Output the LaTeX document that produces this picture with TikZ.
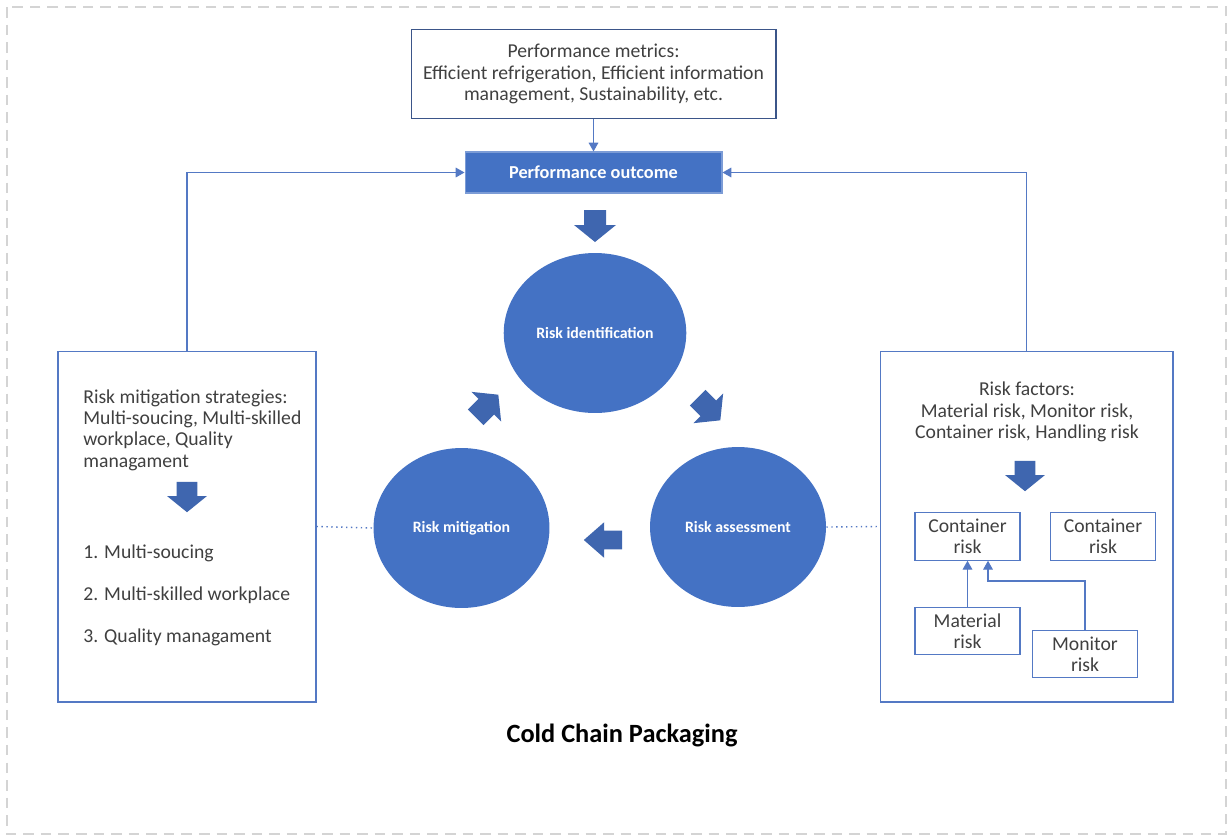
\documentclass[tikz,border=0pt]{standalone}
\usepackage{fontspec}
\setmainfont{Carlito}
\usetikzlibrary{arrows.meta,shapes.geometric}
\definecolor{fillblue}{HTML}{4472C4}
\definecolor{arrowblue}{HTML}{3F66AF}
\definecolor{lineblue}{HTML}{5479C4}
\definecolor{framegrey}{HTML}{D4D4D4}
\definecolor{txt}{HTML}{404040}
\tikzset{
  body/.style={font=\fontsize{11.2}{12.1}\selectfont, text=txt},
  panel/.style={draw=lineblue, line width=0.6pt, fill=white},
  smallbox/.style={panel, body, minimum width=2.1cm, minimum height=0.95cm, align=center, inner sep=1pt},
  stage/.style={ellipse, fill=fillblue, minimum width=3.52cm, minimum height=3.2cm, text=white,
    font=\fontsize{9}{10}\selectfont\bfseries},
  conn/.style={draw=lineblue, line width=0.6pt},
  tip/.style={-{Triangle[length=5pt,width=5.5pt]}},
  link/.style={draw=lineblue, line width=0.8pt, dotted},
  barrow/.pic={\fill[arrowblue] (-16,-11) -- (-1,-11) -- (-1,-21) -- (16,0) -- (-1,21) -- (-1,11) -- (-16,11) -- cycle;}
}
\begin{document}
\begin{tikzpicture}[x=0.02cm, y=-0.02cm]
\useasboundingbox (0,0) rectangle (1227,836);
\draw[framegrey, line width=1.1pt, dash pattern=on 6pt off 4pt] (7,7) rectangle (1226,834);

% performance metrics and outcome
\node[panel, draw=lineblue!70!black, body, align=center, minimum width=7.3cm, minimum height=1.78cm]
  (metrics) at (593.5,74) {Performance metrics:\\Efficient refrigeration, Efficient information\\management, Sustainability, etc.};
\node[fill=fillblue, draw=fillblue!70!white, line width=0.6pt, minimum width=5.14cm, minimum height=0.82cm,
  text=white, font=\fontsize{10.4}{12}\selectfont\bfseries] (outcome) at (593.5,172.5) {Performance outcome};
\draw[conn, tip] (metrics) -- (outcome);

% side panels
\node[panel, minimum width=5.16cm, minimum height=7.02cm] (leftbox) at (187,526.5) {};
\node[panel, minimum width=5.86cm, minimum height=7.02cm] (rightbox) at (1026.5,526.5) {};
\draw[conn, tip] (leftbox.north) |- (outcome.west);
\draw[conn, tip] (rightbox.north) |- (outcome.east);

% risk cycle
\node[stage] (ident) at (595,333) {Risk identification};
\node[stage] (mitig) at (461.5,528) {Risk mitigation};
\node[stage] (assess) at (738,527) {Risk assessment};
\pic[rotate=-90] at (595,226) {barrow};
\pic[rotate=45] at (487,406) {barrow};
\pic[rotate=-45] at (709,409) {barrow};
\pic[rotate=180, xscale=1.2, yscale=0.85] at (603,540) {barrow};
\draw[link] (leftbox.east) -- (mitig.west);
\draw[link] (assess.east) -- (rightbox.west);

% mitigation strategies
\node[body, align=left, anchor=west, inner sep=0] (strat) at (83,430)
  {Risk mitigation strategies:\\Multi-soucing, Multi-skilled\\workplace, Quality\\managament};
\pic[rotate=-90, scale=0.95] at (187,497) {barrow};
\node[body, anchor=west, inner sep=0] (s1) at (83,553) {1. Multi-soucing};
\node[body, anchor=west, inner sep=0] (s2) at (83,595) {2. Multi-skilled workplace};
\node[body, anchor=west, inner sep=0] (s3) at (83,637) {3. Quality managament};

% risk factors
\node[body, align=center, inner sep=0] (factors) at (1027,412)
  {Risk factors:\\Material risk, Monitor risk,\\Container risk, Handling risk};
\pic[rotate=-90, scale=0.95] at (1025,476) {barrow};
\node[smallbox] (cont1) at (967.5,536.5) {Container\\risk};
\node[smallbox] (cont2) at (1103,536.5) {Container\\risk};
\node[smallbox] (mater) at (967.5,631) {Material\\risk};
\node[smallbox] (monit) at (1085,654) {Monitor\\risk};
\draw[conn, tip] (mater.north) -- (cont1.south);
\coordinate (bend) at (988,581);
\draw[conn, tip] (monit.north) |- (bend) -- (bend |- cont1.south);

% title
\node[text=black, font=\fontsize{15}{18}\selectfont\bfseries] (title) at (622,735) {Cold Chain Packaging};
\end{tikzpicture}
\end{document}
